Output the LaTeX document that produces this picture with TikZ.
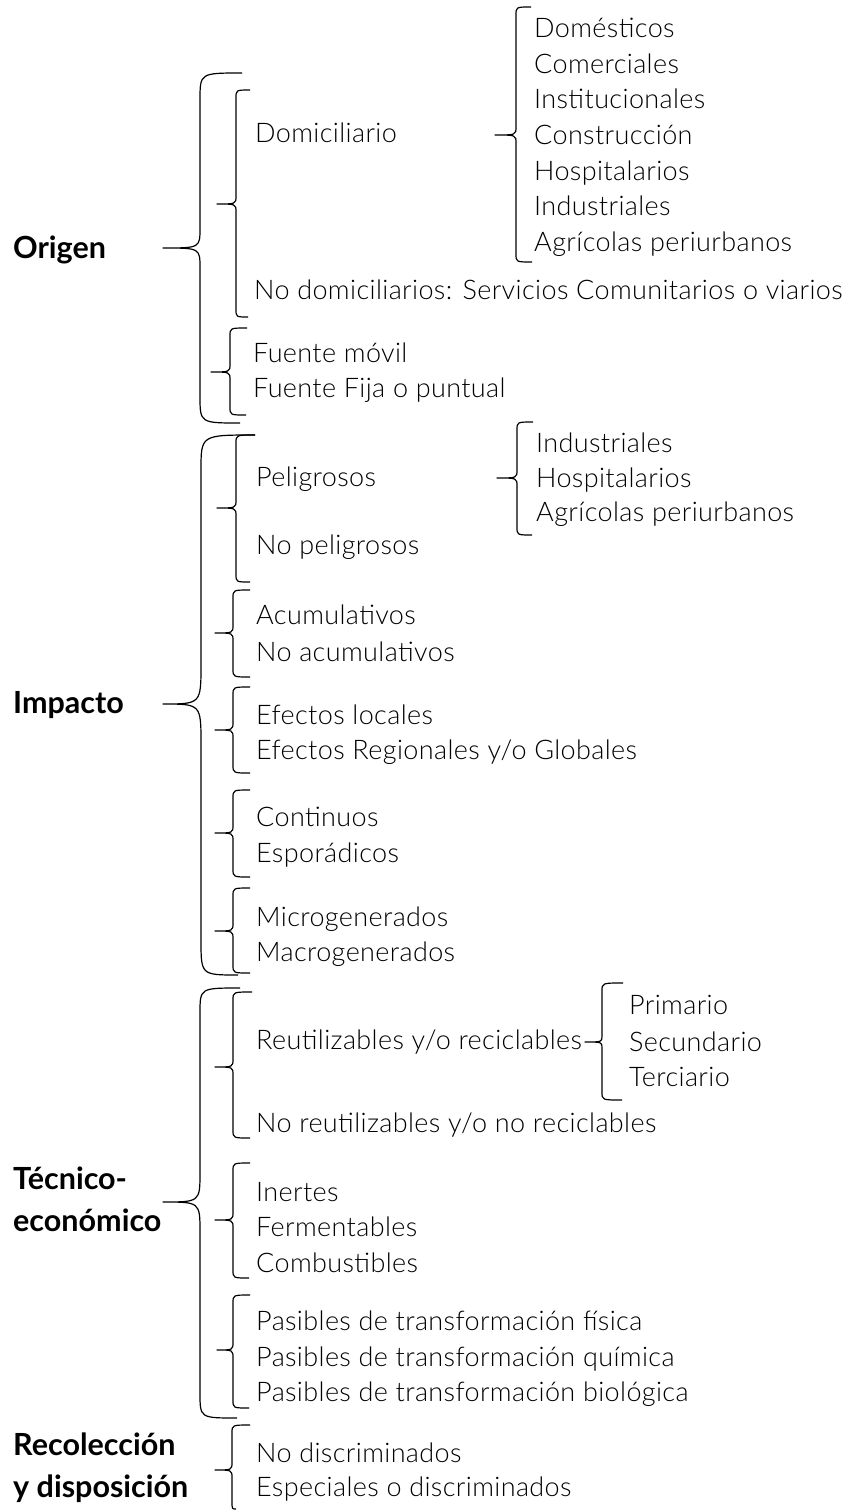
\documentclass[tikz,border=0pt]{standalone}
\usepackage{fontspec}
\setmainfont{Lato}
\IfFontExistsTF{Lato Light}{\newfontfamily\itemfont{Lato Light}[LetterSpace=1.4]}{\newfontfamily\itemfont{Lato}[LetterSpace=1.4]}
\newcommand\mybrace[9]{%
  \draw[bracestyle] (#6,#2) .. controls (#1,#2) .. (#1,#2+#8) -- (#1,#5-#9)
    .. controls (#1,#5) .. (#4,#5) .. controls (#1,#5) .. (#1,#5+#9)
    -- (#1,#3-#8) .. controls (#1,#3) .. (#7,#3);}
\begin{document}
\begin{tikzpicture}[x=1pt,y=-1pt,
  bracestyle/.style={line width=1.2pt, line join=round},
  item/.style={anchor=base west, inner sep=0pt, font=\itemfont\fontsize{27}{31}\selectfont},
  head/.style={anchor=base west, inner sep=0pt, font=\bfseries\fontsize{30.5}{34}\selectfont}]
\useasboundingbox[fill=white] (0,0) rectangle (854,1510);

% headings
\node[head] (origen) at (13,258) {Origen};
\node[head] (impacto) at (13,713) {Impacto};
\node[head] (tec1) at (13,1189) {Técnico-};
\node[head] (tec2) at (13,1231) {económico};
\node[head] (rec1) at (13,1455) {Recolección};
\node[head] (rec2) at (13,1497) {y disposición};

% Origen
\node[item] (domic) at (255,142) {Domiciliario};
\node[item] (nodomic) at (254,299) {No domiciliarios: Servicios Comunitarios o viarios};
\node[item] (fmovil) at (253,362) {Fuente móvil};
\node[item] (ffija) at (253,397) {Fuente Fija o puntual};
\node[item] (o1) at (534,37) {Domésticos};
\node[item] (o2) at (534,73) {Comerciales};
\node[item] (o3) at (534,108) {Institucionales};
\node[item] (o4) at (534,144) {Construcción};
\node[item] (o5) at (534,180) {Hospitalarios};
\node[item] (o6) at (534,215) {Industriales};
\node[item] (o7) at (534,251) {Agrícolas periurbanos};

% Impacto
\node[item] (pel) at (256,486) {Peligrosos};
\node[item] (nopel) at (256,554) {No peligrosos};
\node[item] (p1) at (536,452) {Industriales};
\node[item] (p2) at (536,487) {Hospitalarios};
\node[item] (p3) at (536,521) {Agrícolas periurbanos};
\node[item] (acu) at (256,624) {Acumulativos};
\node[item] (noacu) at (256,661) {No acumulativos};
\node[item] (efl) at (256,724) {Efectos locales};
\node[item] (efr) at (256,759) {Efectos Regionales y/o Globales};
\node[item] (cont) at (256,826) {Continuos};
\node[item] (espo) at (256,862) {Esporádicos};
\node[item] (micro) at (256,926) {Microgenerados};
\node[item] (macro) at (256,961) {Macrogenerados};

% Tecnico-economico
\node[item] (reut) at (256,1049) {Reutilizables y/o reciclables};
\node[item] (noreut) at (256,1132) {No reutilizables y/o no reciclables};
\node[item] (r1) at (629,1014) {Primario};
\node[item] (r2) at (629,1051) {Secundario};
\node[item] (r3) at (629,1086) {Terciario};
\node[item] (inert) at (256,1201) {Inertes};
\node[item] (ferm) at (256,1236) {Fermentables};
\node[item] (comb) at (256,1272) {Combustibles};
\node[item] (pas1) at (256,1330) {Pasibles de transformación física};
\node[item] (pas2) at (256,1366) {Pasibles de transformación química};
\node[item] (pas3) at (256,1401) {Pasibles de transformación biológica};

% Recoleccion
\node[item] (nodis) at (256,1462) {No discriminados};
\node[item] (espe) at (256,1496) {Especiales o discriminados};

% braces: xv, ytop, ybot, xcusp, ycusp, xend-top, xend-bot, r-end, r-cusp
\mybrace{200}{73}{423}{163}{248}{242}{240}{27}{20}
\mybrace{236}{90}{317}{217}{204}{250}{248}{8}{8}
\mybrace{230}{328}{415}{211}{372}{247}{246}{8}{8}
\mybrace{516}{7}{262}{495}{135}{531}{532}{8}{8}

\mybrace{201}{435}{975}{163}{704}{255}{238}{35}{40}
\mybrace{236}{435}{582}{217}{508}{255}{250}{8}{8}
\mybrace{517}{422}{535}{497}{478}{533}{532}{8}{8}
\mybrace{233}{590}{677}{215}{633}{250}{250}{8}{8}
\mybrace{233}{687}{773}{215}{730}{250}{250}{8}{8}
\mybrace{233}{790}{877}{215}{833}{250}{250}{8}{8}
\mybrace{233}{888}{973}{215}{931}{250}{250}{8}{8}

\mybrace{200}{988}{1418}{163}{1202}{240}{237}{25}{30}
\mybrace{233}{992}{1138}{215}{1067}{252}{250}{8}{8}
\mybrace{602}{983}{1100}{585}{1042}{623}{622}{8}{6}
\mybrace{233}{1163}{1278}{215}{1220}{250}{249}{8}{8}
\mybrace{233}{1295}{1408}{217}{1350}{250}{249}{8}{8}
\mybrace{232}{1425}{1509}{215}{1470}{250}{236}{8}{8}
\end{tikzpicture}
\end{document}
